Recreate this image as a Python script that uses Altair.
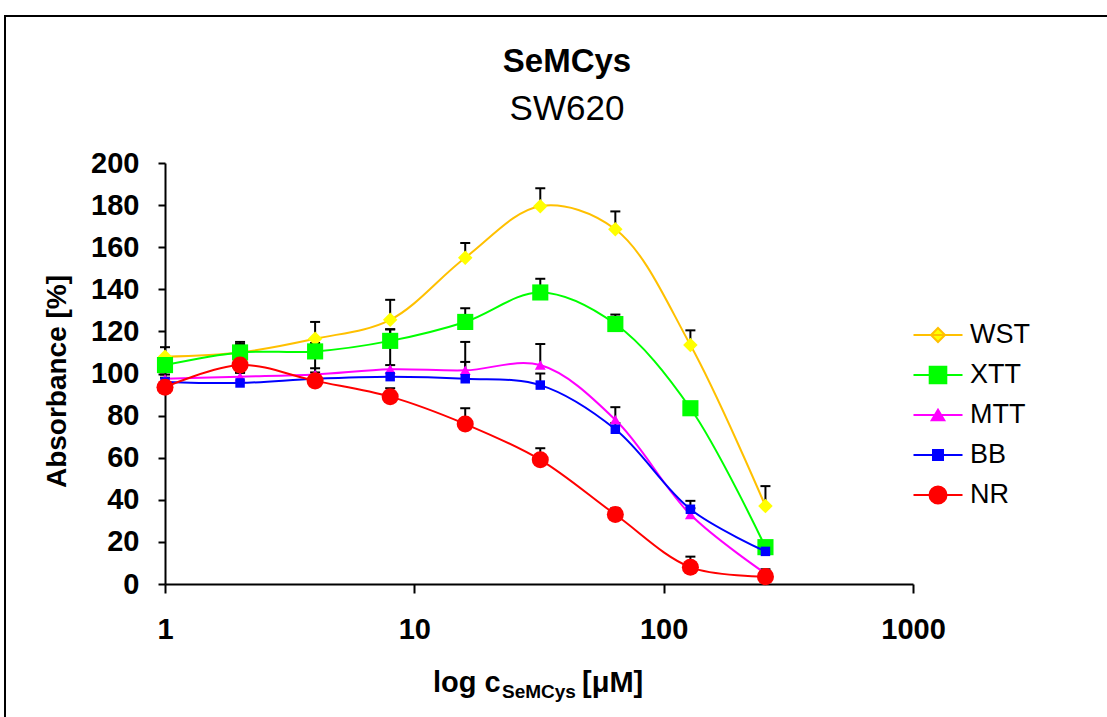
import altair as alt
import pandas as pd

# ---------------- data ----------------
conc = [1, 2, 4, 8, 16, 32, 64, 128, 256]
series_names = ["WST", "XTT", "MTT", "BB", "NR"]

wst = [108, 110, 116.5, 125.5, 155, 179.5, 168.5, 113.5, 37]
wst_err = [4.5, 5, 8, 9.5, 7, 8.5, 8.5, 7, 9.5]
xtt = [104, 110, 110.5, 115.5, 124.5, 138.5, 123.5, 83.5, 17.5]
xtt_err = [3, 4, 4, 5.5, 6.5, 6.5, 4.5, 2, 2]
mtt = [97.5, 98.5, 99.5, 102, 101.5, 104, 78, 33, 5]
mtt_err = [2, 2, 11, 19, 13.5, 10, 6, 3, 2]
bb = [96, 95.5, 97.5, 98.5, 97.5, 94.5, 73.5, 35.5, 15.5]
bb_err = [2, 4.8, 3, 5.5, 8, 5.5, 3, 4, 1]
nr = [93.5, 104, 96.5, 89, 76, 59, 33, 8, 3.5]
nr_err = [2, 4, 6, 4, 7.5, 5.5, 3, 5, 1]

y_ticks = [0, 20, 40, 60, 80, 100, 120, 140, 160, 180, 200]
x_ticks = [1, 10, 100, 1000]

title_text = ["SeMCys"]
subtitle_text = ["SW620"]
y_title = "Absorbance [%]"
x_title_parts = ["log c", "SeMCys", "[\u03bcM]"]

line_colors = ["#FFC000", "#00FF00", "#FF00FF", "#0000FF", "#FF0000"]
marker_colors = ["#FFFF00", "#00FF00", "#FF00FF", "#0000FF", "#FF0000"]
marker_shapes = ["diamond", "square", "triangle-up", "square", "circle"]
marker_sizes = [210, 260, 120, 90, 290]

# legend glyphs: line + marker (units of half symbol size)
legend_paths = [
    "M-1.31,0H1.31M0,-0.374L0.374,0L0,0.374L-0.374,0Z",
    "M-1.31,0H1.31M-0.444,-0.444H0.444V0.444H-0.444Z",
    "M-1.31,0H1.31M0,-0.286L0.337,0.286L-0.337,0.286Z",
    "M-1.31,0H1.31M-0.267,-0.267H0.267V0.267H-0.267Z",
    "M-1.31,0H1.31M0.455,0A0.455,0.455,0,1,1,-0.455,0A0.455,0.455,0,1,1,0.455,0Z",
]

FONT = "Liberation Sans"

rows = []
for name, vals, errs in zip(series_names, [wst, xtt, mtt, bb, nr],
                            [wst_err, xtt_err, mtt_err, bb_err, nr_err]):
    for c, v, e in zip(conc, vals, errs):
        rows.append({"series": name, "conc": c, "value": v, "top": v + e})
df = pd.DataFrame(rows)

xscale = alt.Scale(type="log", domain=[1, 1000])
yscale = alt.Scale(domain=[0, 200])

x_axis = alt.Axis(values=x_ticks, format="d", title=None, grid=False,
                  tickSize=9, tickWidth=2, domainWidth=2, domainColor="black",
                  tickColor="black", labelFont=FONT, labelFontSize=29,
                  labelFontWeight="bold", labelColor="black", labelPadding=22,
                  labelFlush=False)
y_axis = alt.Axis(values=y_ticks, title=y_title, grid=False,
                  tickSize=7, tickWidth=2, domainWidth=2, domainColor="black",
                  tickColor="black", labelFont=FONT, labelFontSize=29,
                  labelFontWeight="bold", labelColor="black", labelPadding=19,
                  titleFont=FONT, titleFontSize=28, titleFontWeight="bold",
                  titleColor="black", titleAngle=270, titleX=-108, titleY=218,
                  titleAlign="center", titleBaseline="middle")

X = alt.X("conc:Q", scale=xscale, axis=x_axis)
Y = alt.Y("value:Q", scale=yscale, axis=y_axis)

base = alt.Chart(df)

err_rule = base.mark_rule(color="black", strokeWidth=2).encode(
    x=X, y=Y, y2="top:Q")
err_cap = base.mark_tick(orient="horizontal", color="black", size=10,
                         thickness=2, opacity=1).encode(
    x=X, y=alt.Y("top:Q", scale=yscale, axis=y_axis))

layers = [err_rule, err_cap]
for name, lc, mc, sh, sz in zip(series_names, line_colors, marker_colors,
                                 marker_shapes, marker_sizes):
    d = df[df.series == name]
    layers.append(alt.Chart(d).mark_line(interpolate="catmull-rom", color=lc,
                                         strokeWidth=2).encode(x=X, y=Y))
    layers.append(alt.Chart(d).mark_point(shape=sh, filled=True, size=sz,
                                          color=mc, opacity=1).encode(x=X, y=Y))

legend = alt.Legend(orient="none", legendX=753, legendY=152, title=None,
                    labelFont=FONT, labelFontSize=27, labelColor="black",
                    symbolSize=1400, symbolStrokeWidth=2, symbolOpacity=1,
                    rowPadding=7, labelOffset=12)
leg_df = df[df.conc == 1]
legend_src = alt.Chart(leg_df).mark_point(filled=True, opacity=0).encode(
    x=X, y=Y,
    shape=alt.Shape("series:N", scale=alt.Scale(domain=series_names, range=legend_paths), legend=legend),
    fill=alt.Fill("series:N", scale=alt.Scale(domain=series_names, range=marker_colors), legend=legend),
    stroke=alt.Stroke("series:N", scale=alt.Scale(domain=series_names, range=line_colors), legend=legend),
)
layers.append(legend_src)

one = pd.DataFrame({"k": [0]})
frame = alt.Chart(one).mark_rect(filled=False, stroke="black", strokeWidth=2).encode(
    x=alt.value(-160), x2=alt.value(1100), y=alt.value(-147), y2=alt.value(700))

title = alt.Chart(pd.DataFrame({"t": title_text})).mark_text(
    font=FONT, fontSize=33, fontWeight="bold", align="center", baseline="alphabetic",
    color="black").encode(x=alt.value(402), y=alt.value(-91), text="t:N")
subtitle = alt.Chart(pd.DataFrame({"t": subtitle_text})).mark_text(
    font=FONT, fontSize=35, align="center", baseline="alphabetic",
    color="black").encode(x=alt.value(402), y=alt.value(-43), text="t:N")

xt1 = alt.Chart(pd.DataFrame({"t": [x_title_parts[0]]})).mark_text(
    font=FONT, fontSize=29, fontWeight="bold", align="left", baseline="alphabetic",
    color="black").encode(x=alt.value(268), y=alt.value(529), text="t:N")
xt2 = alt.Chart(pd.DataFrame({"t": [x_title_parts[1]]})).mark_text(
    font=FONT, fontSize=19, fontWeight="bold", align="left", baseline="alphabetic",
    color="black").encode(x=alt.value(337), y=alt.value(535), text="t:N")
xt3 = alt.Chart(pd.DataFrame({"t": [x_title_parts[2]]})).mark_text(
    font=FONT, fontSize=29, fontWeight="bold", align="left", baseline="alphabetic",
    color="black").encode(x=alt.value(417), y=alt.value(529), text="t:N")

chart = alt.layer(frame, *layers, title, subtitle, xt1, xt2, xt3).properties(
    width=748, height=421,
    padding={"left": 165, "top": 163, "right": 194, "bottom": 133},
    autosize=alt.AutoSizeParams(type="none"),
    background="white",
).configure_view(stroke=None)

chart.save("out.html", embed_options={"renderer": "svg", "actions": False})
